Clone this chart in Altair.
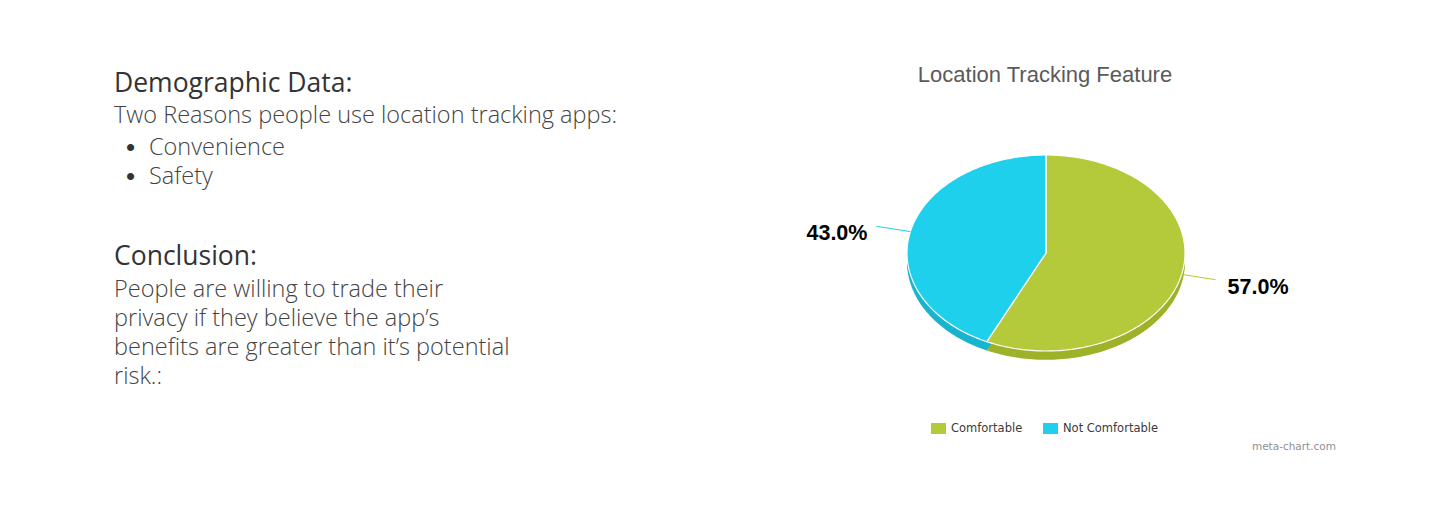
import altair as alt
import numpy as np
import pandas as pd

# ---------------- data ----------------
categories = ["Comfortable", "Not Comfortable"]
values = [57.0, 43.0]
top_colors = ["#B5CA3A", "#1FD0EC"]
side_colors = ["#9DB229", "#17B3CF"]

chart_title = "Location Tracking Feature"
heading1 = "Demographic Data:"
intro_line = "Two Reasons people use location tracking apps:"
bullets = ["Convenience", "Safety"]
heading2 = "Conclusion:"
conclusion_lines = [
    "People are willing to trade their",
    "privacy if they believe the app\u2019s",
    "benefits are greater than it\u2019s potential",
    "risk.:",
]
credit = "meta-chart.com"

# ---------------- derived tables ----------------
total = float(sum(values))
ends = np.cumsum(values) / total
starts = ends - np.array(values) / total
slices = pd.DataFrame({
    "cat": categories,
    "value": values,
    "start": starts,
    "end": ends,
    "label": [f"{v:.1f}%" for v in values],
})

STEPS = 160
step_df = pd.DataFrame({"step": list(range(-1, STEPS + 1))})
outline = slices.merge(step_df, how="cross")
depth_df = pd.DataFrame({"depth": [0.03, 0.06, 0.09]})
side_outline = outline.merge(depth_df, how="cross")

xs = alt.Scale(domain=[-1, 1], range=[907, 1185], nice=False, zero=False)
ys = alt.Scale(domain=[-1, 1], range=[351, 155], nice=False, zero=False)

ang_expr = f"2*PI*(datum.start + (datum.end - datum.start) * max(datum.step, 0) / {STEPS})"

# side (3D depth) of the pie
side = alt.Chart(side_outline).transform_calculate(
    ang=ang_expr
).transform_calculate(
    px="datum.step < 0 ? 0 : sin(datum.ang)",
    py="(datum.step < 0 ? 0 : cos(datum.ang)) - datum.depth",
).mark_line(interpolate="linear-closed", strokeWidth=0).encode(
    x=alt.X("px:Q", scale=xs, axis=None),
    y=alt.Y("py:Q", scale=ys, axis=None),
    fill=alt.Fill("cat:N", scale=alt.Scale(domain=categories, range=side_colors), legend=None),
    detail="depth:N",
    order=alt.Order("step:Q"),
)

# top surface
top = alt.Chart(outline).transform_calculate(
    ang=ang_expr
).transform_calculate(
    px="datum.step < 0 ? 0 : sin(datum.ang)",
    py="datum.step < 0 ? 0 : cos(datum.ang)",
).mark_line(interpolate="linear-closed", stroke="white", strokeWidth=1.2).encode(
    x=alt.X("px:Q", scale=xs, axis=None),
    y=alt.Y("py:Q", scale=ys, axis=None),
    fill=alt.Fill(
        "cat:N",
        scale=alt.Scale(domain=categories, range=top_colors),
        legend=alt.Legend(
            orient="none", legendX=931, legendY=421, direction="horizontal", title=None,
            symbolType="M-1,-0.73H1V0.73H-1Z", symbolSize=225, symbolStrokeWidth=0,
            labelFont="DejaVu Sans", labelFontSize=11.5, labelColor="#3a3a3a",
            columnPadding=20, labelOffset=5, padding=0,
        ),
    ),
    order=alt.Order("step:Q"),
)

# connectors and labels
lab_base = alt.Chart(slices).transform_calculate(
    mid="PI*(datum.start + datum.end)",
).transform_calculate(
    ex="sin(datum.mid)", ey="cos(datum.mid)",
    lx="1.25*sin(datum.mid)", ly="1.25*cos(datum.mid)",
)

connectors = lab_base.mark_rule(strokeWidth=1).encode(
    x=alt.X("ex:Q", scale=xs, axis=None),
    y=alt.Y("ey:Q", scale=ys, axis=None),
    x2="lx:Q",
    y2="ly:Q",
    stroke=alt.Stroke("cat:N", scale=alt.Scale(domain=categories, range=top_colors), legend=None),
)

label_style = dict(fontSize=21.5, fontWeight="bold", font="Liberation Sans", color="#000000", baseline="middle", dy=8)
labels_right = lab_base.transform_filter("datum.lx > 0").mark_text(align="left", dx=12, **label_style).encode(
    x=alt.X("lx:Q", scale=xs, axis=None),
    y=alt.Y("ly:Q", scale=ys, axis=None),
    text="label:N",
)
labels_left = lab_base.transform_filter("datum.lx <= 0").mark_text(align="right", dx=-9, **label_style).encode(
    x=alt.X("lx:Q", scale=xs, axis=None),
    y=alt.Y("ly:Q", scale=ys, axis=None),
    text="label:N",
)


def text_layer(s, x, y, size, color, font, weight="normal", align="left"):
    return alt.Chart(pd.DataFrame({"t": [s]})).mark_text(
        align=align, baseline="alphabetic", fontSize=size, fontWeight=weight, color=color, font=font
    ).encode(text="t:N", x=alt.value(x), y=alt.value(y))


BODY_FONT = "Open Sans"
BODY_SIZE = 23.5
HEAD_SIZE = 26.5
text_layers = [
    text_layer(chart_title, 1045, 82, 22, "#5a5a5a", "Liberation Sans", align="center"),
    text_layer(heading1, 114, 92, HEAD_SIZE, "#333333", BODY_FONT, weight=400),
    text_layer(intro_line, 114, 123, BODY_SIZE, "#444444", BODY_FONT, weight=300),
]
for i, b in enumerate(bullets):
    yb = 155 + 29 * i
    text_layers.append(text_layer("\u2022", 126, yb + 1, 26, "#333333", "Liberation Sans"))
    text_layers.append(text_layer(b, 149, yb, BODY_SIZE, "#444444", BODY_FONT, weight=300))
text_layers.append(text_layer(heading2, 114, 265, HEAD_SIZE, "#333333", BODY_FONT, weight=400))
for i, line in enumerate(conclusion_lines):
    text_layers.append(text_layer(line, 114, 297 + 29 * i, BODY_SIZE, "#444444", BODY_FONT, weight=300))
text_layers.append(text_layer(credit, 1336, 450, 10.5, "#909090", "DejaVu Sans", align="right"))

chart = alt.layer(side, top, connectors, labels_right, labels_left, *text_layers).resolve_scale(
    fill="independent", stroke="independent"
).properties(
    width=1440, height=506, padding=0,
    autosize=alt.AutoSizeParams(type="none"),
    background="white",
).configure_view(stroke=None)

chart.save("out.html", embed_options={"renderer": "svg", "actions": False})
